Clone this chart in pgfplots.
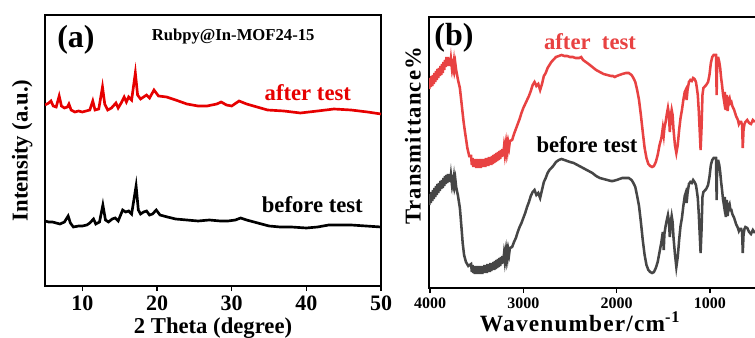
\documentclass[border=0pt]{standalone}
\usepackage{fontspec}
\setmainfont{Liberation Serif}
\usepackage{pgfplots}
\pgfplotsset{compat=1.18}
\definecolor{xrdred}{RGB}{230,0,0}
\definecolor{irred}{RGB}{232,66,66}
\definecolor{irgray}{RGB}{70,70,70}
\begin{document}
\begin{tikzpicture}
\useasboundingbox (0,0) rectangle (566.25pt,253.5pt);
% ---------------- panel (a) ----------------
\begin{axis}[
  at={(33.75pt,39pt)}, anchor=south west,
  scale only axis, width=252pt, height=203.25pt,
  xmin=5, xmax=50, ymin=15, ymax=286, y dir=reverse,
  axis line style={line width=1.4pt},
  xtick={10,20,30,40,50}, xticklabels={10,20,30,40,50}, ytick=\empty,
  tick align=outside, xtick pos=left,
  major tick length=3.75pt, major tick style={line width=1.2pt,black},
  tick label style={font=\bfseries\fontsize{16.5}{16.5}\selectfont},
  xlabel={2 Theta (degree)},
  xlabel style={font=\bfseries\fontsize{17}{17}\selectfont, at={(axis description cs:0.5,-0.155)}, anchor=center},
  ylabel={Intensity (a.u.)},
  ylabel style={font=\bfseries\fontsize{17}{17}\selectfont, at={(axis description cs:-0.0675,0.5)}, anchor=center, rotate=0},
]
\addplot[xrdred, line width=2pt] coordinates {
(5.0,105)(5.5,103)(5.8,101)(6.1,106)(6.5,107)(6.9,96)(7.2,106)(7.6,108)(8.0,107)(8.2,104)(8.5,110)(9.0,112)(9.5,111)(10.0,112)(10.5,111)(11.0,110)(11.4,101)(11.7,110)(12.2,109)(12.7,87)(13.0,104)(13.4,110)(13.9,108)(14.5,103)(14.8,108)(15.2,103)(15.6,97)(15.9,102)(16.2,97)(16.6,100)(17.1,73)(17.4,95)(17.8,99)(18.2,97)(18.6,95)(19.0,98)(19.6,90)(20.2,96)(21.3,97)(22.5,100)(24.0,104)(25.5,106)(26.7,106)(28.0,104)(28.6,102)(29.3,105)(30.0,106)(31.0,101)(32.0,104)(33.4,107)(34.8,110)(37.0,111)(39.2,113)(41.5,111)(43.7,109)(46.0,110)(48.2,112)(50.0,114)
};
\addplot[black, line width=2pt] coordinates {
(5.0,221)(5.5,222)(6.0,222)(6.5,223)(7.0,224)(7.6,222)(8.1,216)(8.4,223)(8.8,227)(9.5,226)(10.0,226)(10.6,225)(11.0,223)(11.5,219)(11.8,224)(12.3,222)(12.75,205)(13.1,220)(13.5,222)(14.0,219)(14.4,218)(14.8,221)(15.4,210)(15.8,212)(16.2,211)(16.6,214)(17.2,186)(17.5,210)(17.8,214)(18.2,212)(18.6,211)(19.0,215)(19.4,214)(19.9,210)(20.4,215)(21.4,217)(22.5,219)(24.0,220)(25.5,221)(27.0,220)(28.5,221)(29.5,221)(30.5,220)(31.2,218)(32.0,220)(33.0,222)(34.0,224)(35.0,226)(36.5,227)(38.0,227)(40.0,228)(41.5,227)(43.0,225)(44.5,225)(46.0,225)(48.0,226)(50.0,227)
};
\node[font=\bfseries\fontsize{24}{24}\selectfont] at (axis cs:9.15,40) {(a)};
\node[font=\bfseries\fontsize{12.5}{12.5}\selectfont] at (axis cs:30.2,37) {Rubpy@In-MOF24-15};
\node[font=\bfseries\fontsize{17}{17}\selectfont, text=xrdred] at (axis cs:40.2,93) {after test};
\node[font=\bfseries\fontsize{17}{17}\selectfont] at (axis cs:40.8,205) {before test};
\end{axis}
% ---------------- panel (b) ----------------
\begin{axis}[
  at={(321.75pt,37.5pt)}, anchor=south west,
  scale only axis, width=255.75pt, height=203.25pt,
  xmin=356, xmax=4011, x dir=reverse, ymin=17, ymax=288, y dir=reverse,
  axis line style={line width=1.4pt},
  xtick={4000,3000,2000,1000}, xticklabels={4000,3000,2000,1000}, ytick=\empty,
  tick align=outside, xtick pos=left,
  major tick length=3.75pt, major tick style={line width=1.2pt,black},
  tick label style={font=\bfseries\fontsize{12}{12}\selectfont},
  xlabel={Wavenumber/cm\textsuperscript{-1}},
  xlabel style={font=\bfseries\fontsize{17.5}{17.5}\selectfont\addfontfeature{LetterSpace=5}, at={(axis description cs:0.443,-0.125)}, anchor=center},
  ylabel={Transmittance\%},
  ylabel style={font=\bfseries\fontsize{17}{17}\selectfont\addfontfeature{LetterSpace=5}, at={(axis description cs:-0.047,0.561)}, anchor=center, rotate=0},
]
\addplot[irred, line width=1.9pt] coordinates {
(4008,89)(4000,78)(3992,87)(3984,76)(3976,86)(3968,75)(3960,84)(3952,73)(3944,82)(3936,71)(3928,80)(3920,69)(3912,78)(3904,68)(3896,76)(3888,66)(3880,75)(3872,64)(3864,73)(3856,62)(3848,70)(3840,60)(3832,67)(3824,57)(3816,66)(3808,57)(3800,66)(3792,58)(3784,66)(3776,59)(3768,66)(3760,59)(3752,67)(3744,61)(3736,69)(3728,64)(3720,70)
(3700,80)(3680,88)(3660,105)(3640,122)(3625,132)(3600,148)(3580,156)
(3560,156)(3552,165)(3544,158)(3536,167)(3528,159)(3520,167)(3512,159)(3504,168)(3496,159)(3488,168)(3480,160)(3472,168)(3464,159)(3456,168)(3448,159)(3440,167)(3432,159)(3424,167)(3416,159)(3408,167)(3400,158)(3392,166)(3384,158)(3376,166)(3368,157)(3360,165)(3352,157)(3344,165)(3336,156)(3328,164)(3320,155)(3312,163)(3304,154)(3296,162)(3288,153)(3280,161)(3272,152)(3264,160)(3256,151)(3248,159)(3240,150)(3232,157)(3224,149)(3216,156)(3208,148)(3200,154)(3192,146)(3184,152)(3176,144)(3168,150)(3160,143)(3152,147)(3144,141)
(3120,140)(3100,134)(3080,129)(3060,124)(3040,119)(3020,113)(3000,108)(2980,104)(2960,100)(2940,96)(2920,91)(2900,85)(2880,82)(2860,86)(2840,84)(2820,90)(2800,84)(2780,76)(2760,73)(2740,68)(2720,65)(2700,62)(2680,60)(2650,57)(2620,56)(2590,55)(2560,56)(2530,56)(2500,57)(2470,57)(2440,58)(2400,58)(2380,57)(2360,60)(2330,62)(2300,64)(2260,67)(2220,70)(2180,72)(2140,74)(2100,75)(2060,76)(2040,76)(2020,77)(2000,76)(1970,75)(1940,74)(1900,73)(1870,73)(1840,75)(1820,78)(1800,82)(1780,90)(1760,100)(1740,115)(1720,132)(1700,148)(1680,158)(1660,164)(1640,166)(1620,167)(1600,166)(1580,162)(1560,155)(1540,145)(1520,138)(1505,128)(1495,135)(1488,128)(1475,122)(1460,113)(1450,108)(1440,114)(1430,132)(1420,116)(1410,110)(1400,115)(1390,130)(1375,145)(1360,153)(1345,145)(1330,130)(1315,118)(1300,110)(1285,100)(1270,92)(1260,90)(1250,100)(1240,90)(1225,82)(1210,80)(1195,81)(1180,78)(1165,79)(1150,82)(1140,88)(1130,95)(1120,110)(1110,130)(1100,150)(1090,128)(1080,95)(1070,88)(1060,87)(1040,85)(1020,82)(1005,75)(990,63)(975,57)(960,55)(945,55)(935,55)(928,95)(922,58)(910,58)(900,62)(890,68)(880,78)(870,85)(860,94)(850,100)(840,92)(830,110)(820,95)(810,111)(800,100)(790,98)(780,103)(770,102)(760,106)(740,110)(720,116)(700,120)(690,124)(680,122)(665,122)(655,125)(648,148)(640,130)(630,124)(620,122)(600,120)(580,123)(560,124)(540,120)(518,122)
};
\addplot[irgray, line width=1.9pt] coordinates {
(4008,205)(4000,194)(3992,203)(3984,192)(3976,201)(3968,190)(3960,199)(3952,188)(3944,197)(3936,186)(3928,195)(3920,184)(3912,193)(3904,183)(3896,191)(3888,181)(3880,189)(3872,180)(3864,188)(3856,178)(3848,186)(3840,176)(3832,184)(3824,175)(3816,183)(3808,174)(3800,182)(3792,174)(3784,182)(3776,175)(3768,182)(3760,175)(3752,183)(3744,177)(3736,185)(3728,180)(3720,187)
(3700,196)(3680,208)(3665,225)(3650,243)(3635,255)(3615,262)(3590,266)
(3560,264)(3552,272)(3544,265)(3536,273)(3528,266)(3520,274)(3512,266)(3504,274)(3496,266)(3488,274)(3480,266)(3472,274)(3464,266)(3456,274)(3448,266)(3440,274)(3432,266)(3424,273)(3416,265)(3408,273)(3400,265)(3392,273)(3384,264)(3376,272)(3368,264)(3360,272)(3352,263)(3344,271)(3336,263)(3328,270)(3320,262)(3312,270)(3304,261)(3296,269)(3288,260)(3280,268)(3272,259)(3264,267)(3256,258)(3248,266)(3240,257)(3232,264)(3224,256)(3216,263)(3208,255)(3200,261)(3192,253)(3184,259)(3176,251)(3168,257)(3160,250)(3152,254)(3144,248)
(3120,247)(3100,242)(3080,238)(3060,232)(3040,227)(3020,223)(3000,218)(2980,213)(2960,207)(2940,202)(2920,196)(2900,192)(2880,190)(2860,195)(2840,193)(2820,198)(2800,190)(2780,182)(2760,178)(2740,173)(2720,170)(2700,168)(2680,166)(2650,162)(2620,160)(2590,159)(2560,160)(2530,161)(2500,162)(2460,163)(2420,165)(2380,167)(2340,169)(2300,171)(2260,173)(2220,176)(2180,178)(2140,179)(2100,180)(2060,181)(2040,181)(2000,180)(1970,179)(1940,178)(1900,178)(1870,178)(1840,180)(1820,183)(1800,187)(1780,196)(1760,206)(1740,222)(1720,240)(1700,255)(1680,265)(1660,270)(1640,272)(1620,273)(1600,272)(1580,268)(1560,262)(1540,252)(1520,242)(1505,232)(1495,250)(1488,234)(1475,226)(1460,219)(1450,215)(1440,221)(1430,237)(1420,222)(1410,216)(1400,222)(1390,238)(1375,254)(1360,267)(1345,257)(1330,240)(1315,226)(1300,218)(1285,206)(1270,196)(1260,193)(1250,203)(1240,193)(1225,184)(1210,182)(1195,183)(1180,180)(1165,182)(1150,185)(1140,191)(1130,198)(1120,213)(1110,233)(1100,253)(1090,230)(1080,197)(1070,192)(1060,191)(1040,189)(1020,185)(1005,177)(990,165)(975,160)(960,158)(945,158)(935,158)(928,200)(922,161)(910,161)(900,165)(890,172)(880,182)(870,190)(860,199)(850,205)(840,197)(830,217)(820,200)(810,216)(800,206)(790,204)(780,210)(770,210)(760,214)(740,218)(720,224)(700,228)(690,231)(680,229)(665,229)(655,232)(648,253)(640,235)(630,229)(620,227)(600,228)(580,232)(560,234)(540,230)(518,233)
};
\node[font=\bfseries\fontsize{24}{24}\selectfont] at (axis cs:3743,38) {(b)};
\node[font=\bfseries\fontsize{17}{17}\selectfont, text=irred] at (axis cs:2285,42) {after\ \ test};
\node[font=\bfseries\fontsize{17}{17}\selectfont] at (axis cs:2318,145) {before test};
\end{axis}
\end{tikzpicture}
\end{document}
